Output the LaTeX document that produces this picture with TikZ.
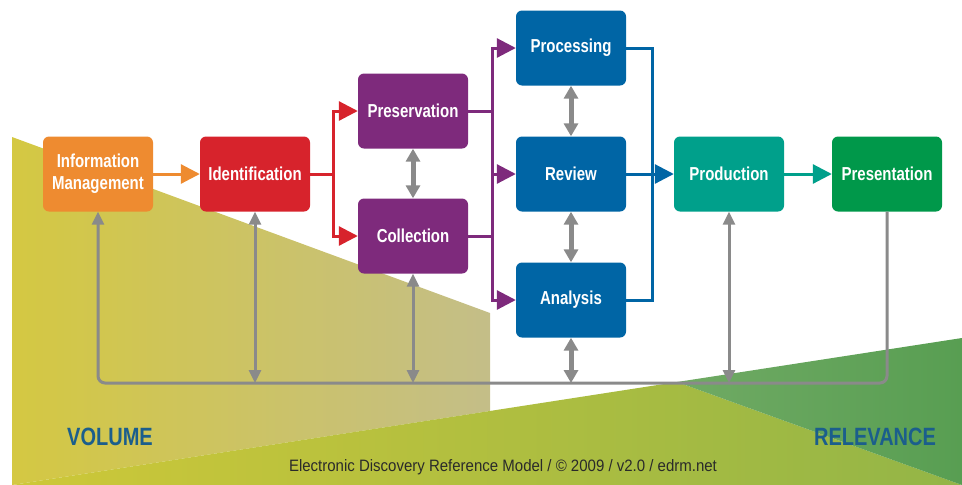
\documentclass[tikz,border=0pt]{standalone}
\usepackage{fontspec}
\setmainfont{Liberation Sans}
\usepackage{graphicx}
\usetikzlibrary{positioning,arrows.meta}
\usepackage{xcolor}
\definecolor{infoorange}{HTML}{EE8B30}
\definecolor{identred}{HTML}{D7232C}
\definecolor{preservepurple}{HTML}{7E2A7C}
\definecolor{reviewblue}{HTML}{0065A5}
\definecolor{prodteal}{HTML}{00A08B}
\definecolor{presentgreen}{HTML}{00984A}
\definecolor{loopgray}{HTML}{8A8A8A}
\definecolor{labelblue}{HTML}{1B5E8C}
\definecolor{footertext}{HTML}{2A2A2A}
\definecolor{volyellow}{RGB}{212,200,66}
\definecolor{volkhaki}{RGB}{196,190,136}
\definecolor{mixyellow}{RGB}{206,200,56}
\definecolor{mixgreen}{RGB}{147,181,71}
\definecolor{relgreenlight}{RGB}{112,170,100}
\definecolor{relgreen}{RGB}{88,158,82}

% taller lettering for the labels
\newcommand{\tall}[1]{\scalebox{1}[1.25]{#1}}

\tikzset{
  stage/.style={rounded corners=6pt, minimum width=110pt, minimum height=75pt,
    inner sep=0pt, text=white, align=center,
    font=\fontsize{15}{18}\selectfont\bfseries},
  flow/.style={line width=3pt, -{Triangle[length=19pt,width=19pt]}},
  flowline/.style={line width=3pt},
  link/.style={loopgray, line width=5pt,
    {Triangle[length=13pt,width=14pt]}-{Triangle[length=13pt,width=14pt]}},
  feedback/.style={loopgray, line width=3pt, rounded corners=7pt},
  backtip/.style={-{Triangle[length=13pt,width=12pt]}},
  bothtips/.style={{Triangle[length=13pt,width=12pt]}-{Triangle[length=13pt,width=12pt]}},
  axislabel/.style={text=labelblue, font=\fontsize{20}{24}\selectfont\bfseries}
}

\begin{document}
\begin{tikzpicture}[x=1pt,y=-1pt]
    \useasboundingbox (0,0) rectangle (962,485);

    % Volume and relevance wedges
    \shade[left color=volyellow, right color=volkhaki]
      (12,137) -- (490,313) -- (490,411) -- (12,485) -- cycle;
    \shade[left color=mixyellow, right color=mixgreen]
      (12,485) -- (677,382) -- (962,485) -- cycle;
    \shade[left color=relgreenlight, right color=relgreen]
      (677,382) -- (962,338) -- (962,485) -- cycle;

    % Stages
    \node[stage, fill=infoorange] (infomgmt) at (98,174)
      {\tall{\begin{tabular}{@{}c@{}}Information\\Management\end{tabular}}};
    \node[stage, fill=identred] (identification) at (255,174) {\tall{Identification}};
    \node[stage, fill=preservepurple] (preservation) at (413,111) {\tall{Preservation}};
    \node[stage, fill=preservepurple] (collection) at (413,236) {\tall{Collection}};
    \node[stage, fill=reviewblue] (processing) at (571,48) {\tall{Processing}};
    \node[stage, fill=reviewblue] (review) at (571,174) {\tall{Review}};
    \node[stage, fill=reviewblue] (analysis) at (571,300) {\tall{Analysis}};
    \node[stage, fill=prodteal] (production) at (729,174) {\tall{Production}};
    \node[stage, fill=presentgreen] (presentation) at (887,174) {\tall{Presentation}};

    % Split points of the flow
    \coordinate (redsplit) at (333,174);
    \coordinate (purplesplit) at (492,174);
    \coordinate (bluesplit) at (652,174);
    \coordinate (loopbase) at (0,383);

    % Forward flow
    \draw[flow, infoorange] (infomgmt.east) -- (identification.west);
    \draw[flowline, identred] (identification.east) -- (redsplit);
    \draw[flow, identred] (redsplit) |- (preservation.west);
    \draw[flow, identred] (redsplit) |- (collection.west);
    \draw[flowline, preservepurple] (preservation.east) -| (purplesplit);
    \draw[flowline, preservepurple] (collection.east) -| (purplesplit);
    \draw[flow, preservepurple] (purplesplit) |- (processing.west);
    \draw[flow, preservepurple] (purplesplit) -- (review.west);
    \draw[flow, preservepurple] (purplesplit) |- (analysis.west);
    \draw[flowline, reviewblue] (processing.east) -| (bluesplit);
    \draw[flowline, reviewblue] (analysis.east) -| (bluesplit);
    \draw[flow, reviewblue] (review.east) -- (production.west);
    \draw[flow, prodteal] (production.east) -- (presentation.west);

    % Two-way links between neighbouring stages
    \draw[link] (preservation.south) -- (collection.north);
    \draw[link] (processing.south) -- (review.north);
    \draw[link] (review.south) -- (analysis.north);

    % Feedback loop along the bottom
    \draw[feedback, backtip] (presentation.south) |- (loopbase -| infomgmt.south) -- (infomgmt.south);
    \draw[feedback, bothtips] (identification.south) -- (identification.south |- loopbase);
    \draw[feedback, bothtips] (collection.south) -- (collection.south |- loopbase);
    \draw[feedback, bothtips] (production.south) -- (production.south |- loopbase);
    \draw[link] (analysis.south) -- (analysis.south |- loopbase);

    % Axis labels and footer
    \node[axislabel] (volume) at (110,437) {\tall{VOLUME}};
    \node[axislabel] (relevance) at (875,437) {\tall{RELEVANCE}};
    \node[text=footertext, font=\fontsize{15}{18}\selectfont] (footer) at (503,467)
      {\scalebox{1}[1.1]{Electronic Discovery Reference Model / © 2009 / v2.0 / edrm.net}};
\end{tikzpicture}
\end{document}
